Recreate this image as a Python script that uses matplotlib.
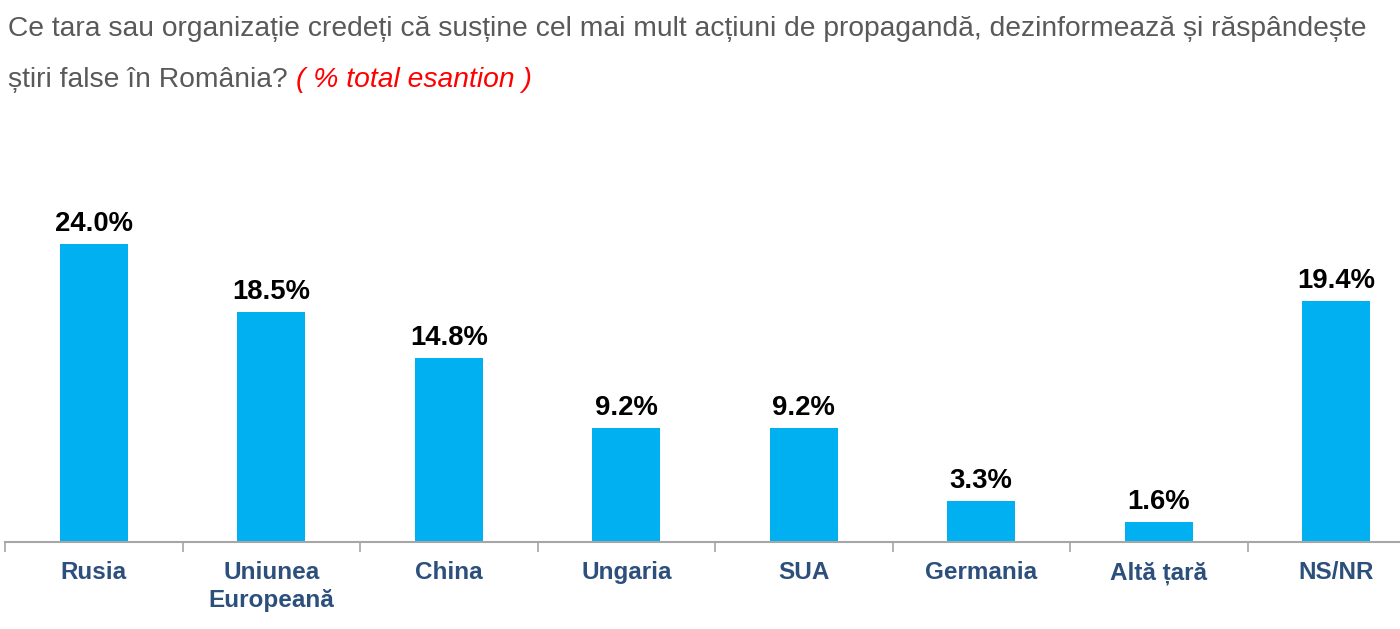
import matplotlib.pyplot as plt
import numpy as np

plt.rcParams['font.family'] = ['Liberation Sans', 'DejaVu Sans']

# date
categorii = ['Rusia', 'Uniunea\nEuropeană', 'China', 'Ungaria', 'SUA',
             'Germania', 'Altă țară', 'NS/NR']
procente = [24.0, 18.5, 14.8, 9.2, 9.2, 3.3, 1.6, 19.4]

BAR_COLOR = '#00B0F0'
LABEL_COLOR = '#2C4F7C'
TITLE_COLOR = '#595959'

fig = plt.figure(figsize=(14, 6.29), dpi=100)
# axa: de la x=5px pana la marginea din dreapta, baza la y=542px
ax = fig.add_axes([5 / 1400, (629 - 542) / 629, 1395 / 1400, (542 - 180) / 629])

x = np.arange(len(categorii))
ax.bar(x, procente, width=0.385, color=BAR_COLOR, zorder=2)

for xi, v in zip(x, procente):
    ax.text(xi, v + 0.55, f'{v:.1f}%', ha='center', va='bottom',
            fontsize=19.8, fontweight='bold', color='black')

ax.set_xlim(-0.5, 7.5 - 25 / 177.4)
ax.set_ylim(0, (542 - 180) / 12.42)

for s in ['top', 'right', 'left']:
    ax.spines[s].set_visible(False)
ax.spines['bottom'].set_color('#A6A6A6')
ax.spines['bottom'].set_linewidth(1.5)
ax.set_yticks([])

ax.set_xticks(x)
ax.set_xticklabels(categorii, fontsize=17.5, fontweight='bold', color=LABEL_COLOR,
                   va='top', linespacing=1.25)
ax.tick_params(axis='x', length=0, pad=14)
ax.set_xticks(np.arange(-0.5, 7.5, 1.0), minor=True)
ax.tick_params(axis='x', which='minor', length=7, width=1.2, color='#A6A6A6')

# titlu
fig.text(8 / 1400, 1 - 29 / 629, 'Ce tara sau organizație credeți că susține cel mai mult acțiuni de propagandă, dezinformează și răspândește',
         fontsize=20.3, color=TITLE_COLOR, va='center', ha='left')
t2 = fig.text(8 / 1400, 1 - 80 / 629, 'știri false în România? ',
              fontsize=20.3, color=TITLE_COLOR, va='center', ha='left')
fig.canvas.draw()
bb = t2.get_window_extent(renderer=fig.canvas.get_renderer())
fig.text(bb.x1 / 1400, 1 - 80 / 629, '( % total esantion )',
         fontsize=20.3, color='#FF0000', style='italic', va='center', ha='left')

plt.savefig('out.png', dpi=100)
